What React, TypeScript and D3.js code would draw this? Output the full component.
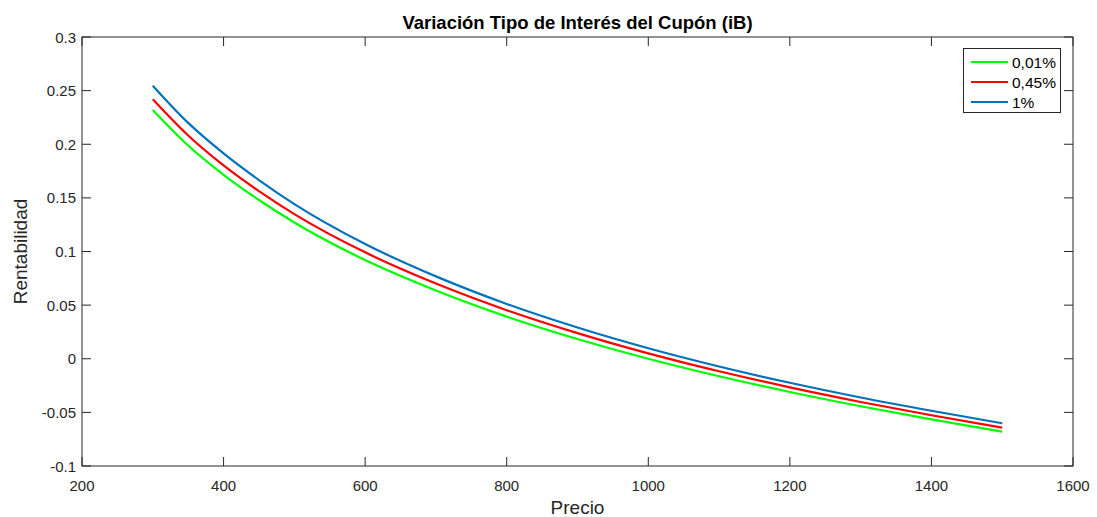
import React from "react";
import * as d3 from "d3";

const prices = [300, 350, 400, 450, 500, 600, 700, 800, 900, 1000, 1100, 1200, 1300, 1400, 1500];
const green = [0.232, 0.1988, 0.1715, 0.148, 0.127, 0.092, 0.0636, 0.0393, 0.0184, 0.0, -0.0163, -0.031, -0.0443, -0.0565, -0.068];
const red = [0.242, 0.2082, 0.1803, 0.1563, 0.1349, 0.0992, 0.0701, 0.0453, 0.0239, 0.005, -0.0117, -0.0267, -0.0403, -0.0527, -0.0643];
const blue = [0.2546, 0.2199, 0.1915, 0.1666, 0.1442, 0.107, 0.0768, 0.0511, 0.0291, 0.0098, -0.0072, -0.0224, -0.0361, -0.0485, -0.0602];

const seriesNames = ["0,01%", "0,45%", "1%"];
const seriesColors = ["#00ff00", "#ff0000", "#0072bd"];
const seriesValues = [green, red, blue];

const xTicks = [200, 400, 600, 800, 1000, 1200, 1400, 1600];
const yTicks = [-0.1, -0.05, 0, 0.05, 0.1, 0.15, 0.2, 0.25, 0.3];
const yTickLabels = ["-0.1", "-0.05", "0", "0.05", "0.1", "0.15", "0.2", "0.25", "0.3"];

const W = 1097, H = 517;
const L = 82, R = 1073, T = 37, B = 466;
const font = "'Liberation Sans', Arial, Helvetica, sans-serif";
const axisColor = "#262626";

export default function App() {
  const x = d3.scaleLinear().domain([200, 1600]).range([L, R]);
  const y = d3.scaleLinear().domain([-0.1, 0.3]).range([B, T]);
  const line = d3
    .line<number>()
    .x((_, i) => x(prices[i]))
    .y((d) => y(d))
    .curve(d3.curveMonotoneX);
  const tl = 9;
  return (
    <div style={{ position: "absolute", left: 0, top: 0 }}>
      <svg width={W} height={H} style={{ display: "block", background: "#fff" }} fontFamily={font}>
        <rect x={0} y={0} width={W} height={H} fill="#fff" />
        <text x={(L + R) / 2} y={29} textAnchor="middle" fontSize={18.5} fontWeight="bold" fill="#000">
          Variación Tipo de Interés del Cupón (iB)
        </text>
        {seriesValues.map((vals, k) => (
          <path key={k} d={line(vals) || ""} fill="none" stroke={seriesColors[k]} strokeWidth={2.2} />
        ))}
        <rect x={L} y={T} width={R - L} height={B - T} fill="none" stroke={axisColor} strokeWidth={1} />
        {xTicks.map((t) => (
          <g key={"x" + t}>
            <line x1={x(t)} x2={x(t)} y1={B} y2={B - tl} stroke={axisColor} />
            <line x1={x(t)} x2={x(t)} y1={T} y2={T + tl} stroke={axisColor} />
            <text x={x(t)} y={491} textAnchor="middle" fontSize={15} fill={axisColor}>
              {t}
            </text>
          </g>
        ))}
        {yTicks.map((t, i) => (
          <g key={"y" + i}>
            <line x1={L} x2={L + tl} y1={y(t)} y2={y(t)} stroke={axisColor} />
            <line x1={R} x2={R - tl} y1={y(t)} y2={y(t)} stroke={axisColor} />
            <text x={76} y={y(t) + 5.5} textAnchor="end" fontSize={15} fill={axisColor}>
              {yTickLabels[i]}
            </text>
          </g>
        ))}
        <text x={(L + R) / 2} y={514} textAnchor="middle" fontSize={19} fill={axisColor}>
          Precio
        </text>
        <text
          transform={`translate(27, ${(T + B) / 2}) rotate(-90)`}
          textAnchor="middle"
          fontSize={19}
          fill={axisColor}
        >
          Rentabilidad
        </text>
        <g>
          <rect x={963.5} y={48.5} width={97} height={64} fill="#fff" stroke={axisColor} strokeWidth={1} />
          {seriesNames.map((n, k) => (
            <g key={n}>
              <line x1={971} x2={1008} y1={62 + k * 20} y2={62 + k * 20} stroke={seriesColors[k]} strokeWidth={2.2} />
              <text x={1012} y={67.5 + k * 20} fontSize={15.5} fill="#000">
                {n}
              </text>
            </g>
          ))}
        </g>
      </svg>
    </div>
  );
}
